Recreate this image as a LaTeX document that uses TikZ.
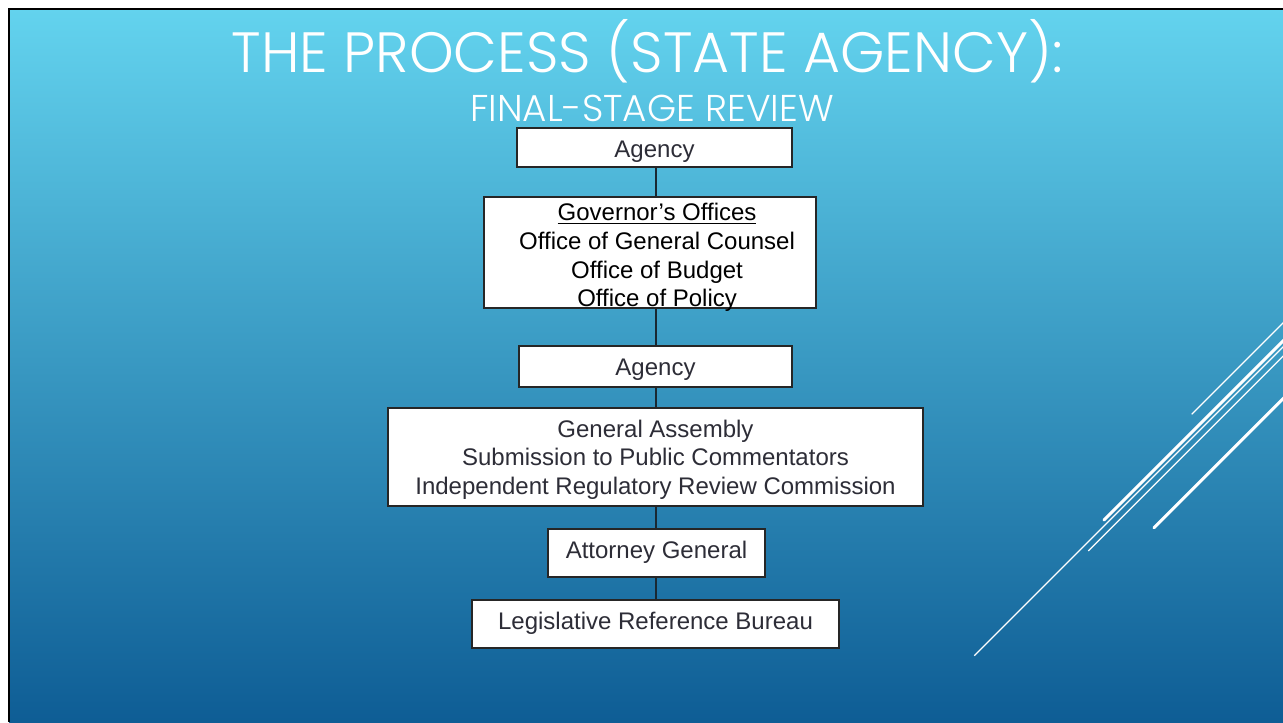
\documentclass[tikz,border=0pt]{standalone}
\usepackage{fontspec}
\setmainfont{Liberation Sans}
\newfontfamily\titlefont{Poppins Light}
\definecolor{slidetop}{RGB}{99,211,238}
\definecolor{slidebottom}{RGB}{14,93,149}
\definecolor{boxtext}{RGB}{45,45,55}
\definecolor{linkcol}{RGB}{25,40,50}
\tikzset{
  flowbox/.style={draw=black!85, line width=0.9pt, fill=white, inner sep=0pt},
  boxlabel/.style={align=center, inner sep=0pt, font=\fontsize{18}{21.4}\selectfont, text=boxtext},
  link/.style={draw=linkcol, line width=0.9pt},
  thinstripe/.style={draw=white, line width=0.9pt},
  thickstripe/.style={draw=white, line width=2.3pt, line cap=round},
  titletext/.style={text=white, inner sep=0pt, anchor=base}
}
\begin{document}
\begin{tikzpicture}[x=0.75pt,y=-0.75pt]
\useasboundingbox (0,0) rectangle (1283,722);
\fill[white] (0,0) rectangle (1283,722);
\shade[top color=slidetop, bottom color=slidebottom] (9,9) rectangle (1283,722);
\draw[black, line width=1.6pt] (9,722) -- (9,9) -- (1283,9);
% decorative stripes
\begin{scope}
\clip (9,9) rectangle (1283,722);
\draw[thinstripe] (974.3,655.7) -- (1300,330);
\draw[thinstripe] (1191.7,414.3) -- (1300,306);
\draw[thickstripe] (1104,520) -- (1300,324);
\draw[thinstripe] (1088.3,551) -- (1300,339.3);
\draw[thickstripe] (1154,527.7) -- (1300,381.7);
\end{scope}
% title
\node[titletext, font=\titlefont\fontsize{42.6}{42.6}\selectfont] (t1) at (647,72.3) {THE PROCESS (STATE AGENCY):};
\node[titletext, font=\titlefont\fontsize{28}{28}\selectfont] (t2) at (652,121) {FINAL-STAGE REVIEW};
% boxes
\node[flowbox, minimum width=275*0.75pt, minimum height=39*0.75pt,
  label={[boxlabel, yshift=-3pt]center:Agency}] (b1) at (654.5,147.5) {};
\node[flowbox, minimum width=332*0.75pt, minimum height=111*0.75pt,
  label={[boxlabel, text=black, xshift=5.3pt, yshift=-3.8pt]center:{\underline{Governor’s Offices}\\Office of General Counsel\\Office of Budget\\Office of Policy}}] (b2) at (650,252.5) {};
\node[flowbox, minimum width=273*0.75pt, minimum height=41*0.75pt,
  label={[boxlabel, yshift=-2.2pt]center:Agency}] (b3) at (655.5,366.5) {};
\node[flowbox, minimum width=535*0.75pt, minimum height=98*0.75pt,
  label={[boxlabel, yshift=-1.9pt]center:{General Assembly\\Submission to Public Commentators\\Independent Regulatory Review Commission}}] (b4) at (655.5,457) {};
\node[flowbox, minimum width=217*0.75pt, minimum height=48*0.75pt,
  label={[boxlabel, yshift=0.75pt]center:Attorney General}] (b5) at (656.5,553) {};
\node[flowbox, minimum width=367*0.75pt, minimum height=48*0.75pt,
  label={[boxlabel, yshift=0.75pt]center:Legislative Reference Bureau}] (b6) at (655.5,624) {};
% connectors
\coordinate (axis) at (656,0);
\draw[link] (b1.south -| axis) -- (b2.north -| axis);
\draw[link] (b2.south -| axis) -- (b3.north -| axis);
\draw[link] (b3.south -| axis) -- (b4.north -| axis);
\draw[link] (b4.south -| axis) -- (b5.north -| axis);
\draw[link] (b5.south -| axis) -- (b6.north -| axis);
\end{tikzpicture}
\end{document}
